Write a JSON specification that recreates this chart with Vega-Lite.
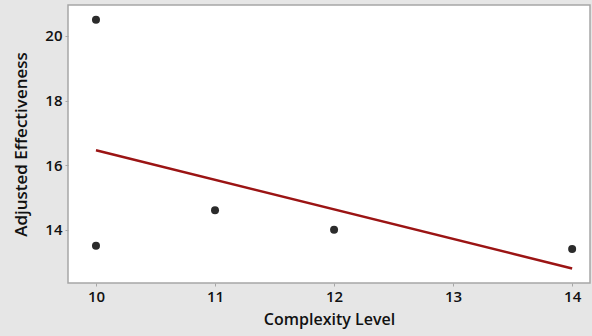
{
  "$schema": "https://vega.github.io/schema/vega-lite/v6.json",
  "width": 522,
  "height": 278,
  "autosize": {"type": "none"},
  "padding": {"left": 68, "top": 5, "right": 2, "bottom": 53},
  "background": "#e6e6e6",
  "config": {
    "view": {"fill": "white", "stroke": "#a6a6a6", "strokeWidth": 1.5},
    "font": "Open Sans",
    "axis": {
      "labelFont": "Open Sans",
      "titleFont": "Open Sans",
      "labelFontSize": 15,
      "titleFontSize": 16,
      "labelFontWeight": 600,
      "titleFontWeight": 600,
      "labelColor": "#111111",
      "titleColor": "#111111",
      "grid": false,
      "domain": false,
      "tickColor": "#a6a6a6",
      "tickSize": 3,
      "labelPadding": 3
    }
  },
  "datasets": {
    "points": [
      {"complexity": 10, "effectiveness": 20.5},
      {"complexity": 10, "effectiveness": 13.5},
      {"complexity": 11, "effectiveness": 14.6},
      {"complexity": 12, "effectiveness": 14.0},
      {"complexity": 14, "effectiveness": 13.4}
    ],
    "fit": [
      {"complexity": 10, "effectiveness": 16.46},
      {"complexity": 14, "effectiveness": 12.8}
    ]
  },
  "layer": [
    {
      "data": {"name": "fit"},
      "mark": {"type": "line", "color": "#9b1414", "strokeWidth": 2.5},
      "encoding": {
        "x": {"field": "complexity", "type": "quantitative", "scale": {"domain": [9.765, 14.15], "nice": false, "zero": false},
          "axis": {"values": [10, 11, 12, 13, 14], "format": "d", "title": "Complexity Level", "titlePadding": 7}},
        "y": {"field": "effectiveness", "type": "quantitative", "scale": {"domain": [12.35, 20.96], "nice": false, "zero": false},
          "axis": {"values": [14, 16, 18, 20], "format": "d", "title": "Adjusted Effectiveness", "titlePadding": 14, "titleFontSize": 17}}
      }
    },
    {
      "data": {"name": "points"},
      "mark": {"type": "point", "filled": true, "color": "#2b2b2b", "opacity": 1, "size": 64},
      "encoding": {
        "x": {"field": "complexity", "type": "quantitative"},
        "y": {"field": "effectiveness", "type": "quantitative"}
      }
    }
  ]
}
